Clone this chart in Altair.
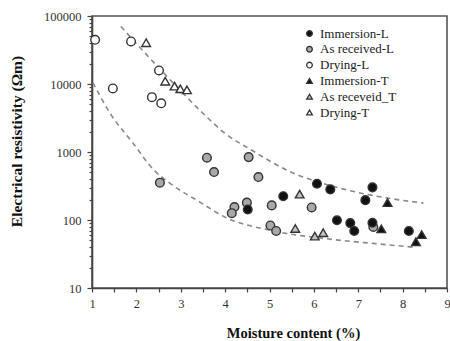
import altair as alt
import pandas as pd

series_names = ["Immersion-L", "As received-L", "Drying-L",
                "Immersion-T", "As receveid_T", "Drying-T"]
series_shapes = ["circle", "circle", "circle",
                 "triangle-up", "triangle-up", "triangle-up"]
series_fills = ["#111111", "#a8a8a8", "#ffffff",
                "#111111", "#c4c4c4", "#ffffff"]
series_strokes = ["#333333"] * 6

drying_L_x = [1.07, 1.47, 1.88, 2.35, 2.51, 2.56]
drying_L_y = [44700, 8600, 42200, 6400, 15800, 5200]

drying_T_x = [2.22, 2.65, 2.86, 2.99, 3.14]
drying_T_y = [40400, 11000, 9300, 8500, 8200]

asrec_L_x = [2.53, 3.59, 3.75, 4.53, 4.75, 4.21, 4.15, 4.49, 5.05, 5.95, 5.02, 5.15, 7.34]
asrec_L_y = [354, 824, 507, 841, 428, 155, 126, 180, 164, 153, 83, 69, 79]

imm_L_x = [4.51, 5.31, 6.07, 6.37, 7.32, 7.16, 6.52, 6.82, 6.91, 7.32, 8.14]
imm_L_y = [143, 224, 342, 282, 302, 196, 99, 90, 69, 91, 69]

imm_T_x = [7.66, 7.52, 8.43, 8.30]
imm_T_y = [180, 74, 61, 48]

asrec_T_x = [5.68, 5.58, 6.02, 6.21]
asrec_T_y = [240, 75, 58, 65]

upper_x = [1.65, 2.31, 2.99, 3.55, 4.0, 4.57, 5.40, 6.49, 7.32, 8.47]
upper_y = [70200, 23700, 8040, 3450, 1875, 1092, 537, 305, 230, 177]

lower_x = [1.02, 1.41, 1.93, 2.38, 2.76, 3.44, 4.0, 5.02, 6.26, 7.39, 8.29]
lower_y = [10500, 3690, 1337, 555, 346, 182, 110, 70.5, 53.2, 44.9, 39.6]

x_ticks = [1 + 0.5 * i for i in range(17)]
y_ticks = [m * 10 ** e for e in range(1, 5) for m in range(1, 10)] + [100000]

rows = []
for name, xs, ys in [("Drying-L", drying_L_x, drying_L_y),
                     ("Drying-T", drying_T_x, drying_T_y),
                     ("As received-L", asrec_L_x, asrec_L_y),
                     ("As receveid_T", asrec_T_x, asrec_T_y),
                     ("Immersion-L", imm_L_x, imm_L_y),
                     ("Immersion-T", imm_T_x, imm_T_y)]:
    for x, y in zip(xs, ys):
        rows.append({"series": name, "moisture": x, "resistivity": y})
df = pd.DataFrame(rows)

crows = []
for name, xs, ys in [("upper", upper_x, upper_y), ("lower", lower_x, lower_y)]:
    for x, y in zip(xs, ys):
        crows.append({"curve": name, "moisture": x, "resistivity": y})
curves = pd.DataFrame(crows)

major_test = "indexof([10,100,1000,10000,100000], datum.value) >= 0"
SERIF = "Liberation Serif"

x_axis = alt.Axis(
    values=x_ticks,
    labelExpr="datum.value % 1 == 0 ? format(datum.value, 'd') : ''",
    title="Moisture content (%)",
    titleX=201, titleY=45, titleBaseline="middle",
    tickSize=4, labelPadding=5, grid=False, labelFlush=False,
)
y_axis = alt.Axis(
    values=y_ticks,
    labelExpr=major_test + " ? format(datum.value, 'd') : ''",
    title="Electrical resistivity (Ωm)",
    titleX=-76, titleY=125, titleBaseline="middle", titleAlign="center",
    labelPadding=6,
    tickSize={"condition": {"test": major_test, "value": 5}, "value": 3},
    grid=False,
)

x_scale = alt.Scale(domain=[1, 9], nice=False)
y_scale = alt.Scale(type="log", domain=[10, 100000], nice=False)

lines = alt.Chart(curves).mark_line(
    color="#8a8a8a", strokeDash=[5, 4], strokeWidth=1.6, interpolate="monotone"
).encode(
    x=alt.X("moisture:Q", scale=x_scale, axis=x_axis),
    y=alt.Y("resistivity:Q", scale=y_scale, axis=y_axis),
    detail="curve:N",
)

legend = alt.Legend(
    orient="none", legendX=211, legendY=11, padding=0,
    symbolSize=32, symbolStrokeWidth=1.3,
    labelFont=SERIF, labelFontSize=13, labelColor="#222",
    rowPadding=1.8, labelOffset=4,
)

points = alt.Chart(df).mark_point(
    filled=True, strokeWidth=1.4, opacity=1, size=75
).encode(
    x=alt.X("moisture:Q", scale=x_scale, axis=x_axis),
    y=alt.Y("resistivity:Q", scale=y_scale, axis=y_axis),
    shape=alt.Shape("series:N", title=None,
                    scale=alt.Scale(domain=series_names, range=series_shapes),
                    legend=legend),
    fill=alt.Fill("series:N", title=None,
                  scale=alt.Scale(domain=series_names, range=series_fills),
                  legend=legend),
    stroke=alt.Stroke("series:N", title=None,
                      scale=alt.Scale(domain=series_names, range=series_strokes),
                      legend=legend),
)

chart = alt.layer(lines, points).properties(
    width=355, height=272,
    autosize=alt.AutoSizeParams(type="none"),
    padding={"left": 92, "top": 16, "right": 3, "bottom": 53},
    background="white",
).configure(
    font=SERIF,
).configure_view(
    stroke="#555", strokeWidth=1.6,
).configure_axis(
    labelFont=SERIF, labelFontSize=12.5, labelColor="#333",
    titleFont=SERIF, titleFontWeight="bold", titleColor="#111",
    tickColor="#444", tickWidth=1.2, domainColor="#444", domainWidth=1.6,
).configure_axisX(
    titleFontSize=14.5,
).configure_axisY(
    titleFontSize=15.5,
)

chart.save("out.html", embed_options={"renderer": "svg", "actions": False})
